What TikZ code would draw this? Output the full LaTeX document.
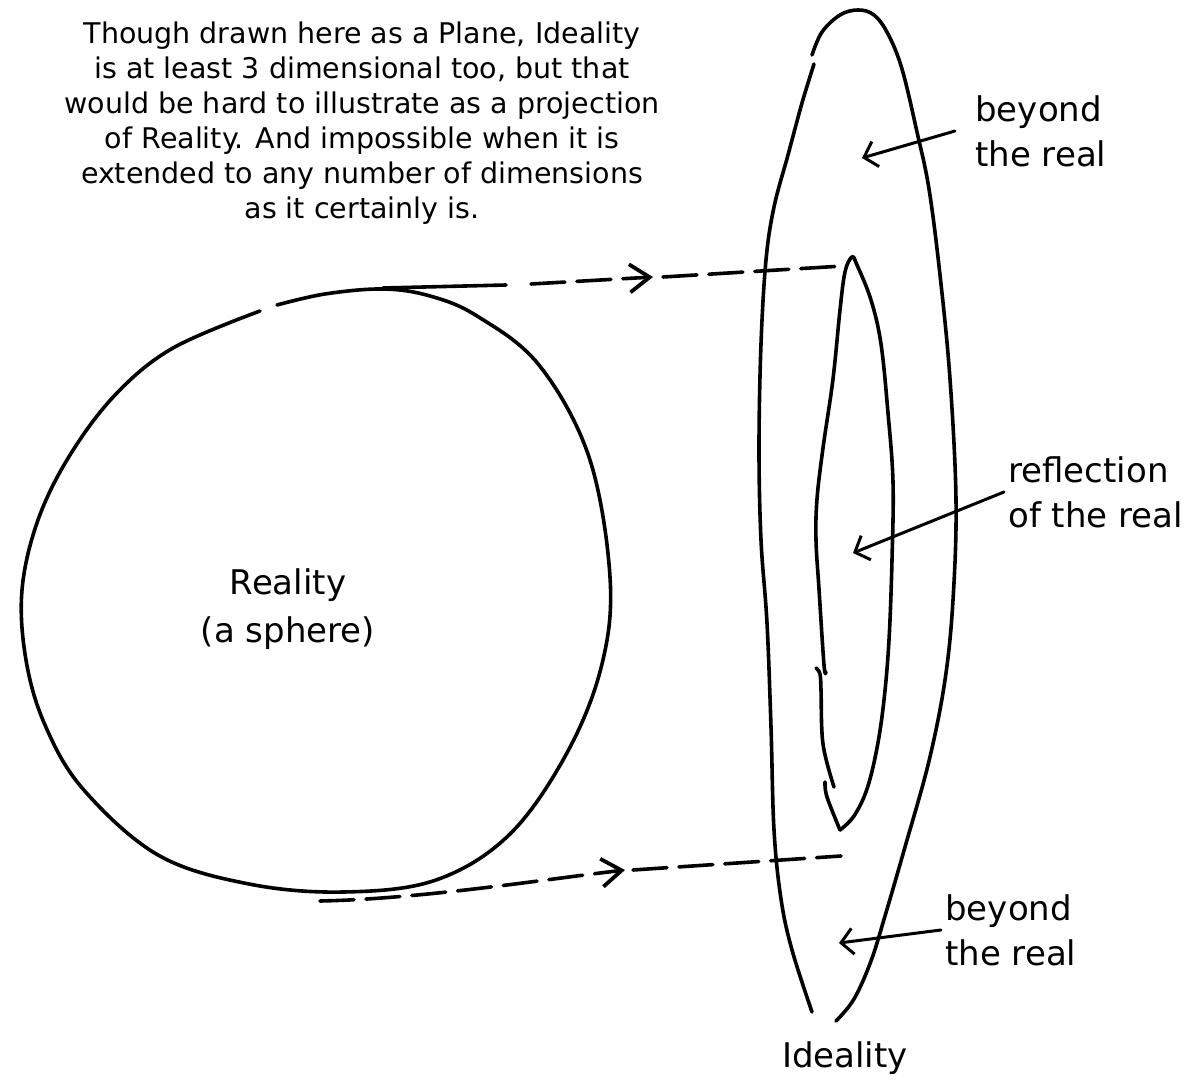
\documentclass[tikz,border=0pt]{standalone}
\usepackage{fontspec}
\setmainfont{DejaVu Sans}
\usetikzlibrary{arrows.meta, positioning}

\begin{document}
\begin{tikzpicture}[x=0.5pt, y=-0.5pt,
        ink/.style={line width=1.8pt, line cap=round, line join=round},
        ptr/.style={ink, line width=1.5pt, -{Straight Barb[length=6pt, width=13pt]}},
        proj/.style={ink, dash pattern=on 17pt off 6pt},
        projtip/.style={-{Straight Barb[length=10pt, width=14pt, line width=1.9pt]}},
        lbl/.style={font=\fontsize{17}{22.5}\selectfont, align=left, inner sep=2pt}]
        % Page frame (1195 x 1080 px)
        \fill[white] (0,0) rectangle (1195,1080);
        \useasboundingbox (0,0) rectangle (1195,1080);

        % Note at the top left
        \node[font=\fontsize{14.25}{17.5}\selectfont, align=center, anchor=north, inner sep=0pt] (note) at (362,21)
            {Though drawn here as a Plane, Ideality\\ is at least 3 dimensional too, but that\\ would be hard to illustrate as a projection\\ of Reality. And impossible when it is\\ extended to any number of dimensions\\ as it certainly is.};

        % Reality (the sphere), hand drawn with a small gap at the top left
        \draw[ink] plot[smooth, tension=0.6] coordinates {(277,305) (325,294) (383,289) (430,296) (477,316) (539,365)
            (589,457) (610,577) (602,664) (568,751) (510,834) (436,880) (344,892) (249,884) (158,855) (83,789)
            (45,725) (26,660) (22,590) (38,520) (70,455) (116,394) (173,348) (260,311)};
        \node[font=\fontsize{17}{24}\selectfont, align=center, anchor=north, inner sep=0pt] (reality) at (288,568)
            {Reality\\(a sphere)};

        % Ideality (the plane), outer outline in two strokes
        \draw[ink] plot[smooth, tension=0.6] coordinates {(814,64) (802,103) (788,155) (774,207) (766,260)
            (761,344) (759,448) (761,540) (767,623) (771,727) (774,830) (781,899) (792,950) (812,1012)};
        \draw[ink] plot[smooth, tension=0.6] coordinates {(836,1021) (854,999) (871,961) (885,916) (905,847)
            (929,761) (945,680) (953,600) (956,500) (950,379) (940,275) (929,189) (917,132) (902,69)
            (888,34) (874,15) (858,10) (840,15) (822,32) (812,55)};
        \node[font=\fontsize{17}{20}\selectfont, inner sep=0pt] (ideality) at (845,1058) {Ideality};

        % Reflection of the sphere inside the plane
        \draw[ink] plot[smooth, tension=0.6] coordinates {(826,672) (824,665) (819,589) (816,540) (817,499)
            (823,448) (833,379) (840,310) (845,272) (852,257) (857,265) (871,300) (881,344) (888,413)
            (893,482) (892,560) (889,640) (884,700) (877,748) (867,789) (854,816) (840,830)};
        \draw[ink] plot[smooth, tension=0.6] coordinates {(816,668) (820,674) (821,690) (823,744) (834,787)};
        \draw[ink] plot[smooth, tension=0.6] coordinates {(825,782) (827,797) (840,830)};

        % Projection lines from the sphere onto the plane
        \coordinate (sphtop) at (383,288);
        \coordinate (toptip) at (653,277);
        \coordinate (innertop) at (843,266);
        \draw[ink] (sphtop) -- (506,285);
        \draw[proj, projtip] (531,284) -- (toptip);
        \draw[proj] ([xshift=5pt]toptip) -- (innertop);

        \coordinate (sphbot) at (320,901);
        \coordinate (bottip) at (625,870);
        \coordinate (innerbot) at (841,856);
        \draw[proj, projtip] (sphbot) .. controls (420,899) and (540,880) .. (bottip);
        \draw[proj] ([xshift=4pt]bottip) -- (innerbot);

        % Labels and their pointers
        \coordinate (tgttop) at (862,158);
        \coordinate (tgtmid) at (853,553);
        \coordinate (tgtbot) at (839,943);
        \node[lbl, anchor=west] (beyondtop) at (971,131) {beyond\\the real};
        \node[lbl, anchor=west] (reflection) at (1004,492) {reflection\\of the real};
        \node[lbl, anchor=west] (beyondbot) at (941,930) {beyond\\the real};
        \draw[ptr] ([xshift=-8pt]beyondtop.west) -- (tgttop);
        \draw[ptr] (reflection.west) -- (tgtmid);
        \draw[ptr] (beyondbot.west) -- (tgtbot);
    \end{tikzpicture}
\end{document}
